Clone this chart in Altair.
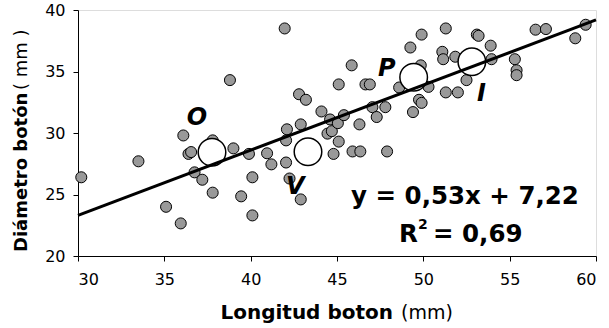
import altair as alt
import pandas as pd

# Gray sample points (Longitud botón, Diámetro botón), mm
pts_x = [30.19, 33.5, 35.1, 35.95, 36.1, 36.4, 36.55, 36.75, 37.2, 37.8, 37.8, 38.8,
         39.0, 39.45, 39.9, 40.1, 40.1, 40.95, 41.2, 41.97, 42.1, 42.05, 42.05, 42.25,
         42.9, 42.8, 43.2, 42.9, 44.1, 44.45, 44.7, 44.6, 44.8, 45.1, 45.1, 45.05,
         45.4, 45.85, 45.9, 46.35, 46.3, 46.65, 46.9, 47.05, 47.3, 47.8, 47.9, 49.25,
         49.4, 49.75, 49.9, 49.9, 49.85, 48.6, 50.3, 51.3, 51.1, 51.15, 51.3, 52.0,
         51.85, 52.5, 53.1, 53.2, 53.9, 53.95, 55.3, 55.4, 55.4, 56.5, 57.1, 58.8, 59.4]
pts_y = [26.4, 27.7, 24.0, 22.65, 29.8, 28.3, 28.45, 26.8, 26.2, 25.15, 29.4, 34.3,
         28.75, 24.85, 28.3, 26.4, 23.3, 28.35, 27.45, 38.5, 30.3, 29.4, 27.6, 26.3,
         30.7, 33.15, 32.7, 24.6, 31.75, 29.95, 30.15, 31.1, 28.3, 33.95, 29.3, 30.8,
         31.45, 35.5, 28.5, 28.5, 30.7, 33.95, 33.95, 32.1, 31.3, 32.1, 28.5, 36.95,
         31.7, 32.7, 32.45, 38.0, 35.5, 33.7, 33.75, 38.5, 36.6, 36.0, 33.3, 33.3,
         36.2, 34.3, 38.0, 37.9, 37.1, 36.0, 36.0, 35.1, 34.7, 38.4, 38.45, 37.7, 38.8]

# Group means (white circles) and their letters
mean_x = [37.76, 43.32, 49.44, 52.81]
mean_y = [28.43, 28.48, 34.53, 35.8]
lab_text = ["O", "V", "P", "I"]
lab_x = [36.89, 42.59, 47.89, 53.36]
lab_y = [31.18, 25.57, 35.2, 33.17]

# Trend line end points
trend_x = [30, 60]
trend_y = [23.3, 39.2]

# Equation text (line 1 centred; line 2 in pieces for the superscript)
eq1_text = ["y = 0,53x + 7,22"]
eq1_x = [52.41]
eq1_y = [24.23]
eq2_text = ["R", "= 0,69"]
eq2_x = [48.59, 50.56]
eq2_y = [21.16, 21.16]
sup_text = ["2"]
sup_x = [49.69]
sup_y = [22.2]

x_ticks = [30, 35, 40, 45, 50, 55, 60]
y_ticks = [20, 25, 30, 35, 40]

FONT = "DejaVu Sans"
W, H = 518, 246

xs = alt.Scale(domain=[30, 60], nice=False, zero=False)
ys = alt.Scale(domain=[20, 40], nice=False, zero=False)

xax = alt.Axis(values=x_ticks, title=None, grid=False, labelFont=FONT, labelFontSize=16,
               labelColor="black", domainColor="black", tickColor="black", tickSize=5,
               labelPadding=10)
yax = alt.Axis(values=y_ticks, title=None, grid=False, labelFont=FONT, labelFontSize=16,
               labelColor="black", domainColor="black", tickColor="black", tickSize=5,
               labelPadding=8)

df_pts = pd.DataFrame({"x": pts_x, "y": pts_y})
df_mean = pd.DataFrame({"x": mean_x, "y": mean_y})
df_lab = pd.DataFrame({"x": lab_x, "y": lab_y, "t": lab_text})
df_line = pd.DataFrame({"x": trend_x, "y": trend_y})
df_eq1 = pd.DataFrame({"x": eq1_x, "y": eq1_y, "t": eq1_text})
df_eq2 = pd.DataFrame({"x": eq2_x, "y": eq2_y, "t": eq2_text})
df_sup = pd.DataFrame({"x": sup_x, "y": sup_y, "t": sup_text})

points = alt.Chart(df_pts).mark_circle(size=122, color="#999999", stroke="black",
                                       strokeWidth=1, opacity=1).encode(
    x=alt.X("x:Q", scale=xs, axis=xax),
    y=alt.Y("y:Q", scale=ys, axis=yax),
)

means = alt.Chart(df_mean).mark_point(shape="circle", size=760, filled=True, fill="white",
                                      stroke="black", strokeWidth=1.5, opacity=1).encode(
    x=alt.X("x:Q", scale=xs), y=alt.Y("y:Q", scale=ys))

trend = alt.Chart(df_line).mark_line(color="black", strokeWidth=3).encode(
    x=alt.X("x:Q", scale=xs), y=alt.Y("y:Q", scale=ys))

letters = alt.Chart(df_lab).mark_text(font=FONT, fontSize=24, fontWeight="bold",
                                      fontStyle="italic", color="black",
                                      baseline="middle", align="center").encode(
    x=alt.X("x:Q", scale=xs), y=alt.Y("y:Q", scale=ys), text="t:N")

eq1 = alt.Chart(df_eq1).mark_text(font=FONT, fontSize=24.5, fontWeight="bold", color="black",
                                  baseline="alphabetic", align="center").encode(
    x=alt.X("x:Q", scale=xs), y=alt.Y("y:Q", scale=ys), text="t:N")
eq2 = alt.Chart(df_eq2).mark_text(font=FONT, fontSize=24.5, fontWeight="bold", color="black",
                                  baseline="alphabetic", align="left").encode(
    x=alt.X("x:Q", scale=xs), y=alt.Y("y:Q", scale=ys), text="t:N")
sup = alt.Chart(df_sup).mark_text(font=FONT, fontSize=14, fontWeight="bold", color="black",
                                  baseline="alphabetic", align="left").encode(
    x=alt.X("x:Q", scale=xs), y=alt.Y("y:Q", scale=ys), text="t:N")

one = pd.DataFrame({"a": [0]})
xt_bold = alt.Chart(one).mark_text(font=FONT, fontSize=20, fontWeight="bold", color="black",
                                   align="right", baseline="alphabetic").encode(
    x=alt.value(315), y=alt.value(309), text=alt.value("Longitud boton"))
xt_norm = alt.Chart(one).mark_text(font=FONT, fontSize=19, color="black",
                                   align="left", baseline="alphabetic").encode(
    x=alt.value(323), y=alt.value(309), text=alt.value("(mm)"))
yt_bold = alt.Chart(one).mark_text(font=FONT, fontSize=18, fontWeight="bold", color="black",
                                   align="left", baseline="middle", angle=270).encode(
    x=alt.value(-56), y=alt.value(242), text=alt.value("Diámetro botón"))
yt_norm = alt.Chart(one).mark_text(font=FONT, fontSize=18, color="black",
                                   align="left", baseline="middle", angle=270).encode(
    x=alt.value(-56), y=alt.value(80), text=alt.value("(  mm  )"))

chart = alt.layer(points, means, trend, letters, eq1, eq2, sup,
                  xt_bold, xt_norm, yt_bold, yt_norm).properties(
    width=W, height=H,
    autosize=alt.AutoSizeParams(type="none"),
    padding={"left": 78, "top": 10, "right": 13, "bottom": 72},
).configure_view(stroke="#9a9a9a", strokeWidth=1).configure(background="white")

chart.save("out.html", embed_options={"renderer": "svg", "actions": False})
